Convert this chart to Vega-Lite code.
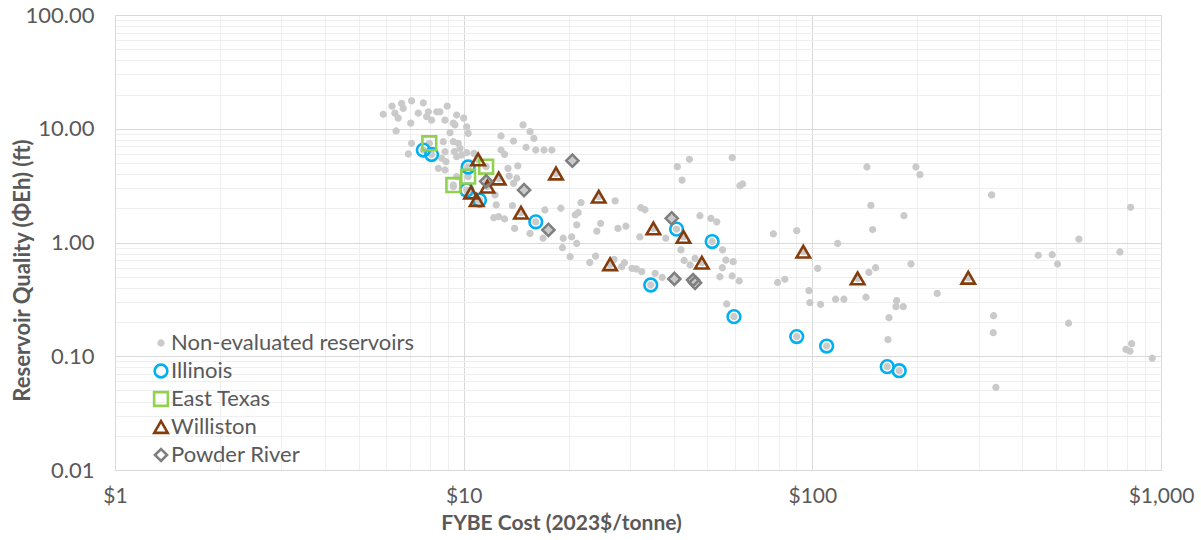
{
  "$schema": "https://vega.github.io/schema/vega-lite/v6.json",
  "width": 1046,
  "height": 455,
  "autosize": {"type": "none"},
  "padding": {"left": 115, "top": 15, "right": 40, "bottom": 70},
  "background": "white",
  "data": {"values": [
    {"cost":5.88,"quality":13.4,"series":"Non-evaluated reservoirs"},
    {"cost":6.35,"quality":13.7,"series":"Non-evaluated reservoirs"},
    {"cost":6.49,"quality":12.4,"series":"Non-evaluated reservoirs"},
    {"cost":6.64,"quality":16.7,"series":"Non-evaluated reservoirs"},
    {"cost":6.71,"quality":15.1,"series":"Non-evaluated reservoirs"},
    {"cost":7.09,"quality":17.6,"series":"Non-evaluated reservoirs"},
    {"cost":7.41,"quality":13.7,"series":"Non-evaluated reservoirs"},
    {"cost":7.66,"quality":16.9,"series":"Non-evaluated reservoirs"},
    {"cost":7.92,"quality":14.1,"series":"Non-evaluated reservoirs"},
    {"cost":8.09,"quality":11.9,"series":"Non-evaluated reservoirs"},
    {"cost":8.55,"quality":14.1,"series":"Non-evaluated reservoirs"},
    {"cost":8.97,"quality":15.8,"series":"Non-evaluated reservoirs"},
    {"cost":8.84,"quality":11.9,"series":"Non-evaluated reservoirs"},
    {"cost":9.55,"quality":13.2,"series":"Non-evaluated reservoirs"},
    {"cost":10.0,"quality":12.4,"series":"Non-evaluated reservoirs"},
    {"cost":9.34,"quality":11.2,"series":"Non-evaluated reservoirs"},
    {"cost":7.05,"quality":11.2,"series":"Non-evaluated reservoirs"},
    {"cost":6.40,"quality":9.56,"series":"Non-evaluated reservoirs"},
    {"cost":9.14,"quality":9.23,"series":"Non-evaluated reservoirs"},
    {"cost":9.34,"quality":7.69,"series":"Non-evaluated reservoirs"},
    {"cost":8.74,"quality":7.69,"series":"Non-evaluated reservoirs"},
    {"cost":9.65,"quality":7.45,"series":"Non-evaluated reservoirs"},
    {"cost":7.09,"quality":7.45,"series":"Non-evaluated reservoirs"},
    {"cost":6.94,"quality":6.00,"series":"Non-evaluated reservoirs"},
    {"cost":8.84,"quality":6.28,"series":"Non-evaluated reservoirs"},
    {"cost":9.40,"quality":6.28,"series":"Non-evaluated reservoirs"},
    {"cost":9.76,"quality":6.73,"series":"Non-evaluated reservoirs"},
    {"cost":8.65,"quality":5.50,"series":"Non-evaluated reservoirs"},
    {"cost":8.90,"quality":5.13,"series":"Non-evaluated reservoirs"},
    {"cost":8.46,"quality":4.49,"series":"Non-evaluated reservoirs"},
    {"cost":8.84,"quality":4.34,"series":"Non-evaluated reservoirs"},
    {"cost":9.55,"quality":5.68,"series":"Non-evaluated reservoirs"},
    {"cost":9.87,"quality":5.88,"series":"Non-evaluated reservoirs"},
    {"cost":9.55,"quality":3.79,"series":"Non-evaluated reservoirs"},
    {"cost":9.34,"quality":3.10,"series":"Non-evaluated reservoirs"},
    {"cost":7.83,"quality":12.8,"series":"Non-evaluated reservoirs"},
    {"cost":8.37,"quality":14.1,"series":"Non-evaluated reservoirs"},
    {"cost":9.44,"quality":10.8,"series":"Non-evaluated reservoirs"},
    {"cost":6.23,"quality":15.8,"series":"Non-evaluated reservoirs"},
    {"cost":10.2,"quality":10.4,"series":"Non-evaluated reservoirs"},
    {"cost":10.3,"quality":9.12,"series":"Non-evaluated reservoirs"},
    {"cost":12.8,"quality":8.64,"series":"Non-evaluated reservoirs"},
    {"cost":13.9,"quality":7.80,"series":"Non-evaluated reservoirs"},
    {"cost":14.8,"quality":10.8,"series":"Non-evaluated reservoirs"},
    {"cost":15.5,"quality":9.42,"series":"Non-evaluated reservoirs"},
    {"cost":15.9,"quality":8.24,"series":"Non-evaluated reservoirs"},
    {"cost":15.1,"quality":6.87,"series":"Non-evaluated reservoirs"},
    {"cost":16.1,"quality":6.50,"series":"Non-evaluated reservoirs"},
    {"cost":17.0,"quality":6.50,"series":"Non-evaluated reservoirs"},
    {"cost":17.9,"quality":6.50,"series":"Non-evaluated reservoirs"},
    {"cost":12.8,"quality":6.50,"series":"Non-evaluated reservoirs"},
    {"cost":13.1,"quality":5.96,"series":"Non-evaluated reservoirs"},
    {"cost":13.4,"quality":4.49,"series":"Non-evaluated reservoirs"},
    {"cost":14.3,"quality":4.71,"series":"Non-evaluated reservoirs"},
    {"cost":13.5,"quality":3.84,"series":"Non-evaluated reservoirs"},
    {"cost":14.2,"quality":3.67,"series":"Non-evaluated reservoirs"},
    {"cost":13.9,"quality":3.31,"series":"Non-evaluated reservoirs"},
    {"cost":12.3,"quality":2.62,"series":"Non-evaluated reservoirs"},
    {"cost":12.4,"quality":2.14,"series":"Non-evaluated reservoirs"},
    {"cost":12.2,"quality":1.65,"series":"Non-evaluated reservoirs"},
    {"cost":12.6,"quality":1.69,"series":"Non-evaluated reservoirs"},
    {"cost":13.1,"quality":1.61,"series":"Non-evaluated reservoirs"},
    {"cost":13.8,"quality":2.11,"series":"Non-evaluated reservoirs"},
    {"cost":14.0,"quality":1.33,"series":"Non-evaluated reservoirs"},
    {"cost":15.5,"quality":1.20,"series":"Non-evaluated reservoirs"},
    {"cost":17.1,"quality":1.93,"series":"Non-evaluated reservoirs"},
    {"cost":19.0,"quality":2.00,"series":"Non-evaluated reservoirs"},
    {"cost":16.9,"quality":1.09,"series":"Non-evaluated reservoirs"},
    {"cost":19.3,"quality":1.09,"series":"Non-evaluated reservoirs"},
    {"cost":19.2,"quality":0.90,"series":"Non-evaluated reservoirs"},
    {"cost":20.4,"quality":1.12,"series":"Non-evaluated reservoirs"},
    {"cost":20.9,"quality":1.75,"series":"Non-evaluated reservoirs"},
    {"cost":21.1,"quality":1.43,"series":"Non-evaluated reservoirs"},
    {"cost":10.2,"quality":6.16,"series":"Non-evaluated reservoirs"},
    {"cost":10.7,"quality":6.08,"series":"Non-evaluated reservoirs"},
    {"cost":20.2,"quality":0.75,"series":"Non-evaluated reservoirs"},
    {"cost":21.7,"quality":2.24,"series":"Non-evaluated reservoirs"},
    {"cost":21.3,"quality":1.83,"series":"Non-evaluated reservoirs"},
    {"cost":21.1,"quality":0.98,"series":"Non-evaluated reservoirs"},
    {"cost":24.7,"quality":1.47,"series":"Non-evaluated reservoirs"},
    {"cost":24.1,"quality":1.26,"series":"Non-evaluated reservoirs"},
    {"cost":27.2,"quality":2.32,"series":"Non-evaluated reservoirs"},
    {"cost":27.7,"quality":1.33,"series":"Non-evaluated reservoirs"},
    {"cost":29.2,"quality":1.39,"series":"Non-evaluated reservoirs"},
    {"cost":32.2,"quality":2.02,"series":"Non-evaluated reservoirs"},
    {"cost":33.1,"quality":1.94,"series":"Non-evaluated reservoirs"},
    {"cost":32.0,"quality":1.12,"series":"Non-evaluated reservoirs"},
    {"cost":38.0,"quality":1.09,"series":"Non-evaluated reservoirs"},
    {"cost":41.0,"quality":4.64,"series":"Non-evaluated reservoirs"},
    {"cost":44.4,"quality":5.39,"series":"Non-evaluated reservoirs"},
    {"cost":42.3,"quality":3.54,"series":"Non-evaluated reservoirs"},
    {"cost":47.6,"quality":1.72,"series":"Non-evaluated reservoirs"},
    {"cost":42.0,"quality":0.86,"series":"Non-evaluated reservoirs"},
    {"cost":42.9,"quality":0.695,"series":"Non-evaluated reservoirs"},
    {"cost":44.6,"quality":0.634,"series":"Non-evaluated reservoirs"},
    {"cost":46.1,"quality":0.726,"series":"Non-evaluated reservoirs"},
    {"cost":23.0,"quality":0.667,"series":"Non-evaluated reservoirs"},
    {"cost":23.9,"quality":0.76,"series":"Non-evaluated reservoirs"},
    {"cost":27.0,"quality":0.711,"series":"Non-evaluated reservoirs"},
    {"cost":28.9,"quality":0.664,"series":"Non-evaluated reservoirs"},
    {"cost":28.4,"quality":0.612,"series":"Non-evaluated reservoirs"},
    {"cost":30.4,"quality":0.593,"series":"Non-evaluated reservoirs"},
    {"cost":31.3,"quality":0.585,"series":"Non-evaluated reservoirs"},
    {"cost":32.4,"quality":0.554,"series":"Non-evaluated reservoirs"},
    {"cost":35.4,"quality":0.536,"series":"Non-evaluated reservoirs"},
    {"cost":37.1,"quality":0.494,"series":"Non-evaluated reservoirs"},
    {"cost":51.2,"quality":1.63,"series":"Non-evaluated reservoirs"},
    {"cost":53.2,"quality":1.52,"series":"Non-evaluated reservoirs"},
    {"cost":58.9,"quality":5.57,"series":"Non-evaluated reservoirs"},
    {"cost":62.0,"quality":3.16,"series":"Non-evaluated reservoirs"},
    {"cost":63.1,"quality":3.27,"series":"Non-evaluated reservoirs"},
    {"cost":55.3,"quality":0.86,"series":"Non-evaluated reservoirs"},
    {"cost":56.5,"quality":0.70,"series":"Non-evaluated reservoirs"},
    {"cost":55.2,"quality":0.60,"series":"Non-evaluated reservoirs"},
    {"cost":59.3,"quality":0.678,"series":"Non-evaluated reservoirs"},
    {"cost":54.3,"quality":0.50,"series":"Non-evaluated reservoirs"},
    {"cost":58.9,"quality":0.508,"series":"Non-evaluated reservoirs"},
    {"cost":61.7,"quality":0.459,"series":"Non-evaluated reservoirs"},
    {"cost":56.8,"quality":0.288,"series":"Non-evaluated reservoirs"},
    {"cost":77.3,"quality":1.19,"series":"Non-evaluated reservoirs"},
    {"cost":90.2,"quality":1.27,"series":"Non-evaluated reservoirs"},
    {"cost":79.5,"quality":0.445,"series":"Non-evaluated reservoirs"},
    {"cost":83.4,"quality":0.475,"series":"Non-evaluated reservoirs"},
    {"cost":103.6,"quality":0.593,"series":"Non-evaluated reservoirs"},
    {"cost":97.8,"quality":0.377,"series":"Non-evaluated reservoirs"},
    {"cost":98.4,"quality":0.296,"series":"Non-evaluated reservoirs"},
    {"cost":105.6,"quality":0.286,"series":"Non-evaluated reservoirs"},
    {"cost":118.2,"quality":0.98,"series":"Non-evaluated reservoirs"},
    {"cost":116.6,"quality":0.317,"series":"Non-evaluated reservoirs"},
    {"cost":123.2,"quality":0.317,"series":"Non-evaluated reservoirs"},
    {"cost":143.4,"quality":4.61,"series":"Non-evaluated reservoirs"},
    {"cost":198.2,"quality":4.61,"series":"Non-evaluated reservoirs"},
    {"cost":203.5,"quality":3.95,"series":"Non-evaluated reservoirs"},
    {"cost":326.7,"quality":2.62,"series":"Non-evaluated reservoirs"},
    {"cost":147.2,"quality":2.12,"series":"Non-evaluated reservoirs"},
    {"cost":183.1,"quality":1.72,"series":"Non-evaluated reservoirs"},
    {"cost":148.9,"quality":1.30,"series":"Non-evaluated reservoirs"},
    {"cost":145.3,"quality":0.547,"series":"Non-evaluated reservoirs"},
    {"cost":151.9,"quality":0.60,"series":"Non-evaluated reservoirs"},
    {"cost":191.8,"quality":0.647,"series":"Non-evaluated reservoirs"},
    {"cost":228.1,"quality":0.357,"series":"Non-evaluated reservoirs"},
    {"cost":142.5,"quality":0.33,"series":"Non-evaluated reservoirs"},
    {"cost":174.5,"quality":0.308,"series":"Non-evaluated reservoirs"},
    {"cost":173.7,"quality":0.273,"series":"Non-evaluated reservoirs"},
    {"cost":182.3,"quality":0.273,"series":"Non-evaluated reservoirs"},
    {"cost":165.9,"quality":0.218,"series":"Non-evaluated reservoirs"},
    {"cost":164.8,"quality":0.14,"series":"Non-evaluated reservoirs"},
    {"cost":331,"quality":0.227,"series":"Non-evaluated reservoirs"},
    {"cost":330.3,"quality":0.161,"series":"Non-evaluated reservoirs"},
    {"cost":543,"quality":0.195,"series":"Non-evaluated reservoirs"},
    {"cost":336.2,"quality":0.0533,"series":"Non-evaluated reservoirs"},
    {"cost":581.6,"quality":1.07,"series":"Non-evaluated reservoirs"},
    {"cost":444.6,"quality":0.772,"series":"Non-evaluated reservoirs"},
    {"cost":487.5,"quality":0.781,"series":"Non-evaluated reservoirs"},
    {"cost":505.1,"quality":0.647,"series":"Non-evaluated reservoirs"},
    {"cost":762.4,"quality":0.825,"series":"Non-evaluated reservoirs"},
    {"cost":818.2,"quality":2.04,"series":"Non-evaluated reservoirs"},
    {"cost":793.2,"quality":0.115,"series":"Non-evaluated reservoirs"},
    {"cost":823.6,"quality":0.129,"series":"Non-evaluated reservoirs"},
    {"cost":814.4,"quality":0.111,"series":"Non-evaluated reservoirs"},
    {"cost":943.6,"quality":0.096,"series":"Non-evaluated reservoirs"},
    {"cost":7.66,"quality":6.50,"series":"Non-evaluated reservoirs"},
    {"cost":8.09,"quality":5.94,"series":"Non-evaluated reservoirs"},
    {"cost":10.3,"quality":4.61,"series":"Non-evaluated reservoirs"},
    {"cost":10.2,"quality":2.89,"series":"Non-evaluated reservoirs"},
    {"cost":11.1,"quality":2.36,"series":"Non-evaluated reservoirs"},
    {"cost":16.1,"quality":1.52,"series":"Non-evaluated reservoirs"},
    {"cost":34.4,"quality":0.423,"series":"Non-evaluated reservoirs"},
    {"cost":40.8,"quality":1.31,"series":"Non-evaluated reservoirs"},
    {"cost":51.6,"quality":1.02,"series":"Non-evaluated reservoirs"},
    {"cost":59.6,"quality":0.223,"series":"Non-evaluated reservoirs"},
    {"cost":90.2,"quality":0.149,"series":"Non-evaluated reservoirs"},
    {"cost":109.9,"quality":0.123,"series":"Non-evaluated reservoirs"},
    {"cost":164,"quality":0.081,"series":"Non-evaluated reservoirs"},
    {"cost":177.5,"quality":0.0746,"series":"Non-evaluated reservoirs"},
    {"cost":7.97,"quality":7.45,"series":"Non-evaluated reservoirs"},
    {"cost":11.6,"quality":4.64,"series":"Non-evaluated reservoirs"},
    {"cost":10.3,"quality":3.79,"series":"Non-evaluated reservoirs"},
    {"cost":9.34,"quality":3.20,"series":"Non-evaluated reservoirs"},
    {"cost":11.0,"quality":5.37,"series":"Non-evaluated reservoirs"},
    {"cost":18.4,"quality":4.04,"series":"Non-evaluated reservoirs"},
    {"cost":24.4,"quality":2.53,"series":"Non-evaluated reservoirs"},
    {"cost":12.6,"quality":3.65,"series":"Non-evaluated reservoirs"},
    {"cost":11.7,"quality":3.10,"series":"Non-evaluated reservoirs"},
    {"cost":10.5,"quality":2.75,"series":"Non-evaluated reservoirs"},
    {"cost":10.9,"quality":2.36,"series":"Non-evaluated reservoirs"},
    {"cost":14.6,"quality":1.83,"series":"Non-evaluated reservoirs"},
    {"cost":26.3,"quality":0.643,"series":"Non-evaluated reservoirs"},
    {"cost":35.0,"quality":1.33,"series":"Non-evaluated reservoirs"},
    {"cost":42.7,"quality":1.12,"series":"Non-evaluated reservoirs"},
    {"cost":48.2,"quality":0.664,"series":"Non-evaluated reservoirs"},
    {"cost":94.2,"quality":0.83,"series":"Non-evaluated reservoirs"},
    {"cost":134.9,"quality":0.484,"series":"Non-evaluated reservoirs"},
    {"cost":280,"quality":0.49,"series":"Non-evaluated reservoirs"},
    {"cost":20.5,"quality":5.24,"series":"Non-evaluated reservoirs"},
    {"cost":11.6,"quality":3.45,"series":"Non-evaluated reservoirs"},
    {"cost":14.9,"quality":2.89,"series":"Non-evaluated reservoirs"},
    {"cost":17.5,"quality":1.29,"series":"Non-evaluated reservoirs"},
    {"cost":39.5,"quality":1.63,"series":"Non-evaluated reservoirs"},
    {"cost":40.2,"quality":0.478,"series":"Non-evaluated reservoirs"},
    {"cost":45.5,"quality":0.468,"series":"Non-evaluated reservoirs"},
    {"cost":46.1,"quality":0.442,"series":"Non-evaluated reservoirs"},
    {"cost":7.66,"quality":6.50,"series":"Illinois"},
    {"cost":8.09,"quality":5.94,"series":"Illinois"},
    {"cost":10.3,"quality":4.61,"series":"Illinois"},
    {"cost":10.2,"quality":2.89,"series":"Illinois"},
    {"cost":11.1,"quality":2.36,"series":"Illinois"},
    {"cost":16.1,"quality":1.52,"series":"Illinois"},
    {"cost":34.4,"quality":0.423,"series":"Illinois"},
    {"cost":40.8,"quality":1.31,"series":"Illinois"},
    {"cost":51.6,"quality":1.02,"series":"Illinois"},
    {"cost":59.6,"quality":0.223,"series":"Illinois"},
    {"cost":90.2,"quality":0.149,"series":"Illinois"},
    {"cost":109.9,"quality":0.123,"series":"Illinois"},
    {"cost":164,"quality":0.081,"series":"Illinois"},
    {"cost":177.5,"quality":0.0746,"series":"Illinois"},
    {"cost":7.97,"quality":7.45,"series":"East Texas"},
    {"cost":11.6,"quality":4.64,"series":"East Texas"},
    {"cost":10.3,"quality":3.79,"series":"East Texas"},
    {"cost":9.34,"quality":3.20,"series":"East Texas"},
    {"cost":11.0,"quality":5.37,"series":"Williston"},
    {"cost":18.4,"quality":4.04,"series":"Williston"},
    {"cost":24.4,"quality":2.53,"series":"Williston"},
    {"cost":12.6,"quality":3.65,"series":"Williston"},
    {"cost":11.7,"quality":3.10,"series":"Williston"},
    {"cost":10.5,"quality":2.75,"series":"Williston"},
    {"cost":10.9,"quality":2.36,"series":"Williston"},
    {"cost":14.6,"quality":1.83,"series":"Williston"},
    {"cost":26.3,"quality":0.643,"series":"Williston"},
    {"cost":35.0,"quality":1.33,"series":"Williston"},
    {"cost":42.7,"quality":1.12,"series":"Williston"},
    {"cost":48.2,"quality":0.664,"series":"Williston"},
    {"cost":94.2,"quality":0.83,"series":"Williston"},
    {"cost":134.9,"quality":0.484,"series":"Williston"},
    {"cost":280,"quality":0.49,"series":"Williston"},
    {"cost":20.5,"quality":5.24,"series":"Powder River"},
    {"cost":11.6,"quality":3.45,"series":"Powder River"},
    {"cost":14.9,"quality":2.89,"series":"Powder River"},
    {"cost":17.5,"quality":1.29,"series":"Powder River"},
    {"cost":39.5,"quality":1.63,"series":"Powder River"},
    {"cost":40.2,"quality":0.478,"series":"Powder River"},
    {"cost":45.5,"quality":0.468,"series":"Powder River"},
    {"cost":46.1,"quality":0.442,"series":"Powder River"}
  ]},
  "mark": {"type": "point", "strokeWidth": 2.6, "opacity": 1},
  "encoding": {
    "x": {
      "field": "cost", "type": "quantitative",
      "scale": {"type": "log", "domain": [1, 1000], "nice": false},
      "axis": {
        "title": "FYBE Cost (2023$/tonne)",
        "values": [1,2,3,4,5,6,7,8,9,10,20,30,40,50,60,70,80,90,100,200,300,400,500,600,700,800,900,1000],
        "format": "$,.0f",
        "labelExpr": "indexof([1,10,100,1000], datum.value) >= 0 ? datum.label : ''",
        "labelOverlap": false, "labelFlush": false,
        "ticks": false,
        "domainColor": "#d9d9d9", "domainWidth": 1,
        "grid": true,
        "gridColor": {"condition": {"test": "indexof([1,10,100,1000], datum.value) >= 0", "value": "#d9d9d9"}, "value": "#efefef"},
        "gridWidth": 1,
        "labelFont": "Lato", "labelFontSize": 21, "labelColor": "#595959", "labelPadding": 15,
        "titleFont": "Lato", "titleFontSize": 21, "titleColor": "#595959", "titleFontWeight": "bold",
        "titleX": 446, "titleY": 53, "titleAlign": "center", "titleBaseline": "middle"
      }
    },
    "y": {
      "field": "quality", "type": "quantitative",
      "scale": {"type": "log", "domain": [0.01, 100], "nice": false},
      "axis": {
        "title": "Reservoir Quality (ΦEh) (ft)",
        "values": [0.01,0.02,0.03,0.04,0.05,0.06,0.07,0.08,0.09,0.1,0.2,0.3,0.4,0.5,0.6,0.7,0.8,0.9,1,2,3,4,5,6,7,8,9,10,20,30,40,50,60,70,80,90,100],
        "format": ".2f",
        "labelExpr": "indexof([0.01,0.1,1,10,100], datum.value) >= 0 ? datum.label : ''",
        "labelOverlap": false, "labelFlush": false,
        "ticks": false,
        "domainColor": "#d9d9d9", "domainWidth": 1,
        "grid": true,
        "gridColor": {"condition": {"test": "indexof([0.01,0.1,1,10,100], datum.value) >= 0", "value": "#d9d9d9"}, "value": "#efefef"},
        "gridWidth": 1,
        "labelFont": "Lato", "labelFontSize": 22, "labelColor": "#595959", "labelPadding": 21,
        "titleFont": "Lato", "titleFontSize": 22, "titleColor": "#595959", "titleFontWeight": "bold",
        "titleX": -93, "titleY": 255, "titleAngle": -90, "titleAlign": "center", "titleBaseline": "middle"
      }
    },
    "shape": {
      "field": "series", "type": "nominal",
      "scale": {"type": "ordinal", "domain": ["Non-evaluated reservoirs","Illinois","East Texas","Williston","Powder River"], "range": ["circle","circle","square","triangle-up","diamond"]},
      "legend": {"title": null}
    },
    "stroke": {
      "field": "series", "type": "nominal",
      "scale": {"type": "ordinal", "domain": ["Non-evaluated reservoirs","Illinois","East Texas","Williston","Powder River"], "range": ["#cacaca","#00b0f0","#92d050","#843c0c","#7f7f7f"]},
      "legend": {"title": null}
    },
    "fill": {
      "field": "series", "type": "nominal",
      "scale": {"type": "ordinal", "domain": ["Non-evaluated reservoirs","Illinois","East Texas","Williston","Powder River"], "range": ["#cacaca","transparent","transparent","transparent","transparent"]},
      "legend": {"title": null}
    },
    "size": {
      "field": "series", "type": "nominal",
      "scale": {"type": "ordinal", "domain": ["Non-evaluated reservoirs","Illinois","East Texas","Williston","Powder River"], "range": [22, 161, 190, 182, 145]},
      "legend": {"title": null}
    }
  },
  "config": {
    "view": {"stroke": null},
    "font": "Lato",
    "legend": {
      "orient": "none", "legendX": 35, "legendY": 317,
      "padding": 0, "rowPadding": 2, "gridAlign": "all",
      "labelFont": "Lato", "labelFontSize": 22, "labelColor": "#595959", "labelOffset": -1, "labelLimit": 500,
      "symbolStrokeWidth": 2.6
    }
  }
}
